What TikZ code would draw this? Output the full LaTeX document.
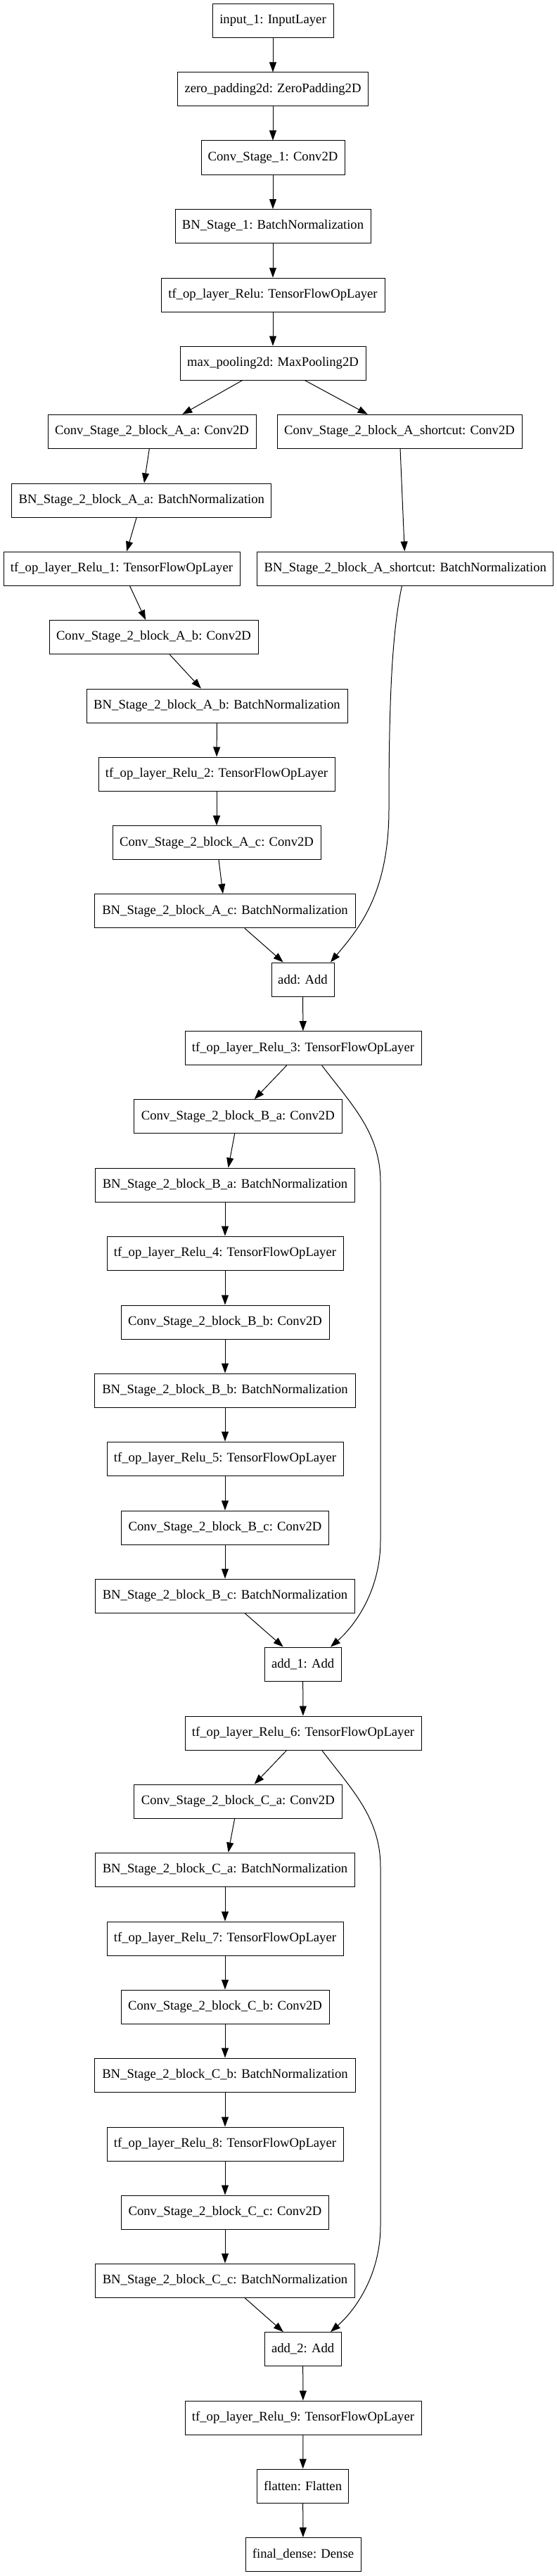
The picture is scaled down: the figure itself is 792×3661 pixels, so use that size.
\documentclass[tikz,border=0pt]{standalone}
\usepackage{fontspec}
\setmainfont{Liberation Serif}
\usetikzlibrary{arrows.meta}
\tikzset{
  box/.style={draw, line width=1pt, minimum height=48pt, inner sep=0pt, font=\fontsize{18.67}{22}\selectfont},
  edge/.style={line width=1pt, -{Triangle[length=14pt,width=10pt]}}
}
\begin{document}
\begin{tikzpicture}[x=1pt,y=-1pt]
\useasboundingbox (0,0) rectangle (792,3661);
\node[box,minimum width=172pt] (in) at (388,29.5) {input\_1: InputLayer};
\node[box,minimum width=271pt] (zp) at (388,127) {zero\_padding2d: ZeroPadding2D};
\node[box,minimum width=204pt] (c1) at (388,224) {Conv\_Stage\_1: Conv2D};
\node[box,minimum width=278pt] (bn1) at (388,321.5) {BN\_Stage\_1: BatchNormalization};
\node[box,minimum width=318pt] (r0) at (388,419) {tf\_op\_layer\_Relu: TensorFlowOpLayer};
\node[box,minimum width=264pt] (mp) at (388,516) {max\_pooling2d: MaxPooling2D};
\node[box,minimum width=296pt] (aa) at (216,613.3) {Conv\_Stage\_2\_block\_A\_a: Conv2D};
\node[box,minimum width=348pt] (asc) at (568,613.3) {Conv\_Stage\_2\_block\_A\_shortcut: Conv2D};
\node[box,minimum width=369pt] (bnaa) at (201.3,711) {BN\_Stage\_2\_block\_A\_a: BatchNormalization};
\node[box,minimum width=336pt] (r1) at (173,808) {tf\_op\_layer\_Relu\_1: TensorFlowOpLayer};
\node[box,minimum width=421pt] (bnasc) at (576.3,808) {BN\_Stage\_2\_block\_A\_shortcut: BatchNormalization};
\node[box,minimum width=297pt] (ab) at (218.5,905.5) {Conv\_Stage\_2\_block\_A\_b: Conv2D};
\node[box,minimum width=371pt] (bnab) at (308.5,1003) {BN\_Stage\_2\_block\_A\_b: BatchNormalization};
\node[box,minimum width=336pt] (r2) at (308,1100) {tf\_op\_layer\_Relu\_2: TensorFlowOpLayer};
\node[box,minimum width=296pt] (ac) at (308,1197.7) {Conv\_Stage\_2\_block\_A\_c: Conv2D};
\node[box,minimum width=370.5pt] (bnac) at (320,1294.7) {BN\_Stage\_2\_block\_A\_c: BatchNormalization};
\node[box,minimum width=89pt] (add) at (430.5,1392) {add: Add};
\node[box,minimum width=336pt] (r3) at (431,1489.7) {tf\_op\_layer\_Relu\_3: TensorFlowOpLayer};
\node[box,minimum width=295.4pt] (ba) at (338.3,1586.7) {Conv\_Stage\_2\_block\_B\_a: Conv2D};
\node[box,minimum width=368.5pt] (bnba) at (320,1684) {BN\_Stage\_2\_block\_B\_a: BatchNormalization};
\node[box,minimum width=336pt] (r4) at (320,1781) {tf\_op\_layer\_Relu\_4: TensorFlowOpLayer};
\node[box,minimum width=296pt] (bb) at (320,1879) {Conv\_Stage\_2\_block\_B\_b: Conv2D};
\node[box,minimum width=370.5pt] (bnbb) at (320,1976) {BN\_Stage\_2\_block\_B\_b: BatchNormalization};
\node[box,minimum width=336pt] (r5) at (320,2073) {tf\_op\_layer\_Relu\_5: TensorFlowOpLayer};
\node[box,minimum width=295.4pt] (bc) at (320,2171) {Conv\_Stage\_2\_block\_B\_c: Conv2D};
\node[box,minimum width=368.5pt] (bnbc) at (320,2268) {BN\_Stage\_2\_block\_B\_c: BatchNormalization};
\node[box,minimum width=109pt] (add1) at (430.6,2365) {add\_1: Add};
\node[box,minimum width=336pt] (r6) at (431,2463) {tf\_op\_layer\_Relu\_6: TensorFlowOpLayer};
\node[box,minimum width=295.4pt] (ca) at (338.3,2560) {Conv\_Stage\_2\_block\_C\_a: Conv2D};
\node[box,minimum width=368.5pt] (bnca) at (320,2657) {BN\_Stage\_2\_block\_C\_a: BatchNormalization};
\node[box,minimum width=336pt] (r7) at (320,2755) {tf\_op\_layer\_Relu\_7: TensorFlowOpLayer};
\node[box,minimum width=296pt] (cb) at (320,2852) {Conv\_Stage\_2\_block\_C\_b: Conv2D};
\node[box,minimum width=370.5pt] (bncb) at (320,2949) {BN\_Stage\_2\_block\_C\_b: BatchNormalization};
\node[box,minimum width=336pt] (r8) at (320,3047) {tf\_op\_layer\_Relu\_8: TensorFlowOpLayer};
\node[box,minimum width=295.4pt] (cc) at (320,3144) {Conv\_Stage\_2\_block\_C\_c: Conv2D};
\node[box,minimum width=368.5pt] (bncc) at (320,3241) {BN\_Stage\_2\_block\_C\_c: BatchNormalization};
\node[box,minimum width=109pt] (add2) at (430.6,3338.5) {add\_2: Add};
\node[box,minimum width=336pt] (r9) at (431,3436) {tf\_op\_layer\_Relu\_9: TensorFlowOpLayer};
\node[box,minimum width=130pt] (fl) at (430.6,3533) {flatten: Flatten};
\node[box,minimum width=164pt] (fd) at (431,3630.5) {final\_dense: Dense};
% straight edges
\foreach \a/\b in {in/zp,zp/c1,c1/bn1,bn1/r0,r0/mp,mp/aa,mp/asc,aa/bnaa,asc/bnasc,bnaa/r1,r1/ab,ab/bnab,bnab/r2,r2/ac,ac/bnac,bnac/add,add/r3,r3/ba,ba/bnba,bnba/r4,r4/bb,bb/bnbb,bnbb/r5,r5/bc,bc/bnbc,bnbc/add1,add1/r6,r6/ca,ca/bnca,bnca/r7,r7/cb,cb/bncb,bncb/r8,r8/cc,cc/bncc,bncc/add2,add2/r9,r9/fl,fl/fd}
  \draw[edge] (\a) -- (\b);
% skip connections
\draw[edge] ([xshift=-4.8pt]bnasc.south) .. controls (557,900) and (553,1000) .. (553,1150)
  .. controls (553,1270) and (510,1320) .. ([xshift=39.5pt]add.north);
\draw[edge] ([xshift=26.7pt]r3.south) .. controls (500,1570) and (541,1610) .. (541,1680)
  -- (541,2190) .. controls (541,2260) and (505,2310) .. ([xshift=39.4pt]add1.north);
\draw[edge] ([xshift=26.7pt]r6.south) .. controls (500,2543.3) and (541,2583.3) .. (541,2653.3)
  -- (541,3163.3) .. controls (541,3233.3) and (505,3283.3) .. ([xshift=39.4pt]add2.north);
\end{tikzpicture}
\end{document}
